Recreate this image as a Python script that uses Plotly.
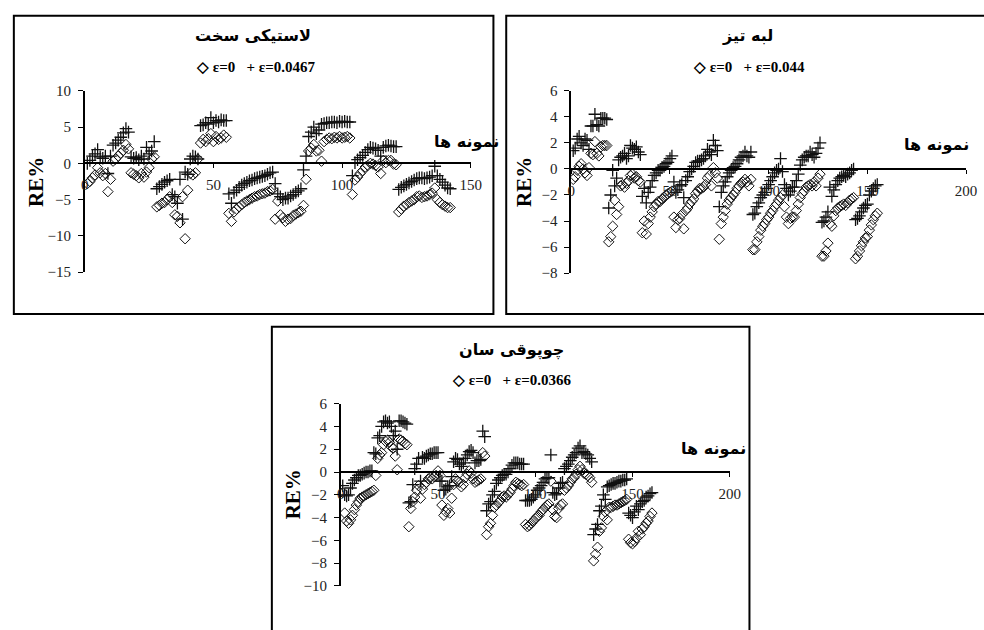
import plotly.graph_objects as go

# ---------------- data ----------------
titles = ["لاستیکی سخت", "لبه تیز", "چوپوقی سان"]
eps_labels = ["ε=0.0467", "ε=0.044", "ε=0.0366"]
eps0_label = "ε=0"
x_label = "نمونه ها"
y_label = "RE%"

# Panel 1 (لاستیکی سخت)
p1_eps0 = [
    -2.8, -2.5, -2.0, -1.6, -0.6, -1.3, -1.7, -1.4, -3.9, -2.2,
    0.3, 0.6, 1.0, 1.4, 1.8, 2.6, 2.0,
    -1.3, -1.5, -1.7, -2.0, -1.4, -1.9, -1.2, -0.6, 0.6, 0.9,
    -6.0, -5.8, -5.5, -5.4, -5.0, -4.6, -5.4, -7.1, -7.3, -8.2, -4.6, -10.4, -3.7,
    -1.4, -1.6, -1.3, 0.6,
    2.8, 3.3, 3.0, 3.4, 4.1, 3.0, 3.7, 3.3, 3.5, 3.9, 3.6,
    -6.9, -8.0, -6.7, -6.3, -6.0, -5.7, -5.4, -5.2, -5.0, -4.8, -4.6, -4.5, -4.3, -4.2, -4.1, -3.9, -3.8, -3.6,
    -7.7, -5.2, -7.1, -7.5, -8.0, -7.7, -7.6, -7.2, -7.0, -6.8, -6.6, -5.8, -2.2,
    1.7, 2.1, 2.6, 1.7, 1.8, 0.3,
    3.0, 3.3, 3.5, 3.4, 3.6, 3.5, 3.7, 3.5, 3.6, 3.7, 3.5,
    -4.3, -2.3, -1.9, -1.4, -1.0, -0.5, -0.3, 0.0, -0.1, -0.3, -0.5, -1.4, 0.4, 0.1, 0.4, 0.4, -0.1, -0.2,
    -6.7, -6.3, -5.9, -5.7, -5.4, -5.2, -5.0, -4.6, -4.5, -4.7, -4.6, -4.5, -4.3, -4.1, -3.4, -5.0, -5.4, -5.7, -5.9, -6.1, -6.1,
]
p1_eps = [
    0.0, 0.4, 1.0, 1.3, 1.9, 0.9, 0.7, 1.0, -1.4, 1.0,
    2.5, 2.8, 3.2, 3.6, 4.2, 4.8, 4.3,
    0.9, 0.7, 0.8, 0.5, 1.0, 0.6, 2.2, 1.3, 1.7, 3.0,
    -3.5, -3.2, -2.9, -2.6, -2.4, -2.2, -4.3, -4.6, -5.5, -2.2, -7.7, -1.2, -1.5,
    0.6, 1.0, 0.9, 0.6,
    5.2, 5.3, 5.6, 5.4, 6.3, 5.6, 5.9, 5.7, 6.0, 5.9, 5.9,
    -4.2, -5.5, -4.0, -3.7, -3.3, -3.0, -2.8, -2.6, -2.4, -2.3, -2.1, -2.0, -1.9, -1.8, -1.7, -1.5, -1.3, -1.2,
    -2.8, -4.2, -4.6, -5.0, -4.8, -4.8, -4.5, -4.3, -4.0, -3.8, -3.5, -0.9, 1.0,
    3.7, 4.3, 5.0, 4.1, 4.6, 5.4,
    5.5, 5.6, 5.6, 5.7, 5.7, 5.6, 5.8, 5.7, 5.8, 5.7, 5.7,
    -1.7, 0.1, 0.5, 0.8, 1.1, 1.5, 1.9, 2.2, 2.1, 2.0, 1.8, 1.0, 2.2, 2.4, 2.5, 2.4, 2.3, 2.3,
    -3.6, -3.3, -3.1, -2.9, -2.7, -2.5, -2.3, -2.1, -2.0, -2.0, -2.1, -2.0, -1.9, -1.7, -0.4, -1.7, -2.2, -2.6, -3.0, -3.4, -3.5,
]

# Panel 2 (لبه تیز)
p2_eps0 = [
    -0.8, -0.6, -0.1, 0.2, 0.4, 0.0, -0.3, -0.5, 0.1,
    1.2, 1.1, 2.1, 1.2, 1.0, 1.7, 1.8, 1.8, 1.8,
    -5.6, -5.2, -4.4, -2.4, -3.5, -2.9, -1.3, -1.2, -1.4, -1.1, -0.9, -0.5, -0.4, -0.7, -0.6, -0.9, -1.0,
    -4.9, -4.0, -5.0, -4.2, -3.7, -3.3, -2.9, -2.7, -2.5, -2.5, -2.3, -2.2, -2.0, -1.9, -1.8, -1.7,
    -3.7, -4.5, -3.9, -3.8, -3.5, -4.6, -3.2, -3.0, -2.7, -2.5, -2.3, -1.9, -1.7, -1.5, -1.5, -1.4, -1.2, -0.7, -0.5, -1.3, 0.1, -0.3, -0.7,
    -5.4, -4.2, -3.7, -3.2, -2.7, -2.4, -2.2, -2.0, -1.8, -1.5, -1.3, -1.1, -1.0, -0.8, -1.0, -1.3, -0.8,
    -6.2, -6.2, -5.6, -5.2, -4.7, -4.4, -4.2, -3.9, -3.7, -3.4, -3.2, -2.9, -2.7, -2.4, -2.2, -2.0,
    -2.9, -3.7, -4.2, -3.8, -3.7, -3.7, -3.2, -2.7, -2.2, -1.9, -1.7, -1.4, -1.3, -1.2, -1.3, -1.0, -1.3, -0.7, -0.4,
    -6.7, -6.7, -6.3, -5.7, -4.2, -4.4, -3.6, -3.2, -3.0, -2.9, -2.8, -2.7, -2.8, -2.6, -2.4, -2.3, -2.2,
    -6.9, -6.7, -6.3, -5.9, -5.6, -5.3, -5.2, -4.7, -4.3, -3.9, -3.6, -3.4,
]
p2_eps = [
    1.4, 1.6, 2.3, 2.5, 2.0, 1.8, 2.3, 2.2, 1.5,
    3.3, 3.3, 4.2, 3.4, 3.3, 3.9, 3.9, 3.9, 3.8,
    -3.0, -2.0, -0.1, -1.3, -0.7, 0.7, 0.9, 1.0, 1.2, 0.8, 1.0, 1.8, 1.6, 1.5, 1.7, 1.3, 1.1,
    -2.1, -1.5, -2.6, -1.8, -1.4, -0.9, -0.5, -0.3, -0.1, -0.1, 0.1, 0.2, 0.4, 0.5, 0.8, 1.0,
    -1.0, -1.8, -1.6, -1.3, -1.2, -2.2, -0.9, -0.6, -0.2, 0.0, 0.2, 0.5, 0.6, 0.6, 0.7, 0.8, 1.0, 1.5, 1.3, 1.1, 2.2, 1.8, 1.4,
    -2.9, -1.8, -1.3, -1.0, -0.6, -0.3, -0.1, 0.1, 0.2, 0.4, 0.7, 0.9, 1.0, 1.3, 1.0, 0.9, 1.3,
    -3.5, -3.4, -2.9, -2.6, -2.2, -2.0, -1.8, -1.5, -1.2, -0.9, -0.6, -0.3, -0.1, 0.0, 0.8, -0.2,
    -1.2, -1.5, -2.0, -1.7, -1.4, -1.4, -0.9, -0.4, 0.3, 0.7, 0.9, 1.0, 1.0, 1.3, 1.1, 0.9, 1.2, 1.6, 2.0,
    -4.1, -4.0, -3.7, -3.3, -1.4, -2.1, -1.6, -1.2, -0.9, -0.7, -0.6, -0.5, -0.6, -0.4, -0.3, -0.1, 0.0,
    -3.9, -3.8, -3.6, -3.3, -3.0, -2.8, -2.7, -2.0, -1.7, -1.5, -1.3, -1.2,
]

# Panel 3 (چوپوقی سان)
p3_eps0 = [
    -1.8, -3.6, -4.3, -4.5, -4.2, -3.8, -3.3, -2.9, -2.6, -2.3, -2.2, -2.1, -2.0, -1.9, -1.8, -1.7, -1.6, -0.3,
    1.2, 1.5, 1.7, 2.4, 2.7, 2.8, 2.6, 2.2, 2.1, 1.4, 0.2, 2.9, 2.8, 2.7, 2.5, 2.4,
    -4.8, -3.2, -2.6, -2.2, -1.6, -1.2, -2.3, -1.5, -1.1, -0.9, -0.6, -0.5, -0.6, -0.4, -0.3, 0.1, -0.3,
    -2.9, -3.8, -3.5, -3.2, -3.6, -2.3, -1.1, -0.6, -0.8, -0.9, -1.3, -1.1, -0.5, -0.2, 0.1, -0.1, -0.6, -0.9, -0.8, -0.7, -0.6, 1.7, 1.4,
    -5.5, -4.8, -4.5, -3.8, -3.1, -2.9, -2.7, -2.5, -2.2, -2.1, -2.2, -2.0, -1.8, -1.5, -1.2, -0.9, -1.0, -1.1, -1.2, -1.1,
    -4.6, -4.8, -4.7, -4.5, -4.3, -4.1, -3.9, -3.8, -3.5, -3.3, -3.1, -2.9, -2.8, -0.8, -3.3, -3.9, -4.0, -3.2, -2.9, -2.8,
    -1.6, -1.4, -1.2, -0.9, -0.6, -0.5, -0.2, 0.2, 0.5, 0.2, -0.1, -0.2, -0.3, -0.5, -0.9,
    -7.8, -7.2, -6.6, -5.2, -4.9, -3.9, -3.5, -4.2, -3.1, -3.1, -3.0, -2.9, -2.9, -2.8, -2.7, -2.6, -2.5, -2.4,
    -5.9, -6.2, -6.3, -6.1, -5.8, -5.2, -5.5, -5.0, -4.8, -4.5, -4.3, -3.9, -3.6,
]
p3_eps = [
    -1.2, -2.0, -2.1, -2.0, -1.4, -1.0, -0.7, -0.5, -0.3, -0.3, -0.2, -0.1, 0.0, 0.0, 0.1, 0.1, 1.7, 1.6,
    3.0, 3.2, 4.0, 4.4, 4.5, 4.3, 4.4, 4.0, 3.2, 3.6, 2.0, 4.5, 4.5, 4.4, 4.3, 4.2,
    -2.7, -2.6, -1.1, 0.3, 0.7, 1.2, -0.8, 1.3, 1.2, 1.4, 1.5, 1.6, 1.6, 1.7, 1.7, 1.7, -0.8,
    -0.8, -1.6, -1.5, -1.3, -1.2, -0.4, 0.9, 1.2, 1.1, 0.7, 0.5, 0.8, 1.2, 1.5, 1.8, 1.9, 1.7, 0.8, 1.0, 1.0, 1.1, 3.6, 3.1,
    -3.4, -2.8, -2.6, -2.0, -1.7, -1.0, -0.7, -0.5, -0.3, -0.2, -0.2, 0.0, 0.3, 0.6, 0.8, 0.8, 0.8, 0.7, 0.7, 0.7,
    -2.5, -2.5, -2.5, -2.4, -2.2, -2.0, -1.6, -1.4, -1.2, -0.9, -0.6, -0.5, -0.5, 1.5, -1.8, -2.0, -1.9, -1.4, -1.0, -0.9,
    0.3, 0.5, 0.7, 1.0, 1.3, 1.5, 1.7, 2.1, 2.3, 1.7, 1.8, 1.6, 1.5, 1.2, 0.9,
    -5.5, -5.0, -4.6, -3.4, -3.0, -2.0, -2.4, -1.3, -1.2, -1.1, -1.0, -1.0, -0.9, -0.8, -0.8, -0.7, -0.7, -0.6,
    -3.6, -3.8, -4.0, -3.5, -3.0, -3.3, -2.8, -2.6, -2.5, -2.2, -2.1, -1.9, -1.8,
]

x_ranges = [[0, 150], [0, 200], [0, 200]]
x_ticks = [[0, 50, 100, 150], [0, 50, 100, 150, 200], [0, 50, 100, 150, 200]]
y_ranges = [[-15, 10], [-8, 6], [-10, 6]]
y_ticks = [[-15, -10, -5, 0, 5, 10], [-8, -6, -4, -2, 0, 2, 4, 6], [-10, -8, -6, -4, -2, 0, 2, 4, 6]]

# ---------------- layout (pixel geometry) ----------------
W, H = 984, 630
def px(x): return x / W
def py(y): return 1 - y / H

# plot areas: (x_left, x_right, y_top, y_bottom) in pixels
areas = [(82, 474, 85, 271), (576, 977, 85, 272), (342, 737, 406, 593)]
borders = [(10, 8, 497, 314), (510, 8, 1000, 314), (272, 327, 757, 640)]
title_pos = [(253, 28), (755, 28), (515, 351)]
legend_pos = [(255, 61), (757, 61), (515, 382)]
xlab = [(435, 137, "left"), (982, 140, "right"), (685, 452, "left")]
ylab_x = [33, 528, 293]

serif = "Liberation Serif"
persian = "DejaVu Sans"
ink = "#111111"

series = [(p1_eps0, p1_eps), (p2_eps0, p2_eps), (p3_eps0, p3_eps)]

fig = go.Figure()
layout = dict(
    width=W, height=H, margin=dict(l=0, r=0, t=0, b=0),
    paper_bgcolor="white", plot_bgcolor="rgba(0,0,0,0)",
    showlegend=False, shapes=[], annotations=[],
)

for i, (d0, d1) in enumerate(series):
    k = "" if i == 0 else str(i + 1)
    xs0 = list(range(1, len(d0) + 1))
    xs1 = list(range(1, len(d1) + 1))
    fig.add_trace(go.Scatter(
        x=xs0, y=d0, mode="markers", name=eps0_label,
        xaxis="x" + k, yaxis="y" + k,
        marker=dict(symbol="diamond-open", size=8, color=ink, line=dict(width=1, color=ink)),
    ))
    fig.add_trace(go.Scatter(
        x=xs1, y=d1, mode="markers", name=eps_labels[i],
        xaxis="x" + k, yaxis="y" + k,
        marker=dict(symbol="cross-thin", size=9, color=ink, line=dict(width=1.3, color=ink)),
    ))

    xl, xr, yt, yb = areas[i]
    ydom = [py(yb), py(yt)]
    ymin, ymax = y_ranges[i]
    zero_pos = ydom[0] + (0 - ymin) / (ymax - ymin) * (ydom[1] - ydom[0])

    layout["xaxis" + k] = dict(
        domain=[px(xl), px(xr)], range=x_ranges[i], anchor="free", position=zero_pos,
        tickvals=x_ticks[i], showline=True, linecolor="black", linewidth=1.5,
        ticks="outside", ticklen=4, tickcolor="black", showgrid=False, zeroline=False,
        tickfont=dict(family=serif, size=15, color="#222"), ticklabelstandoff=4,
    )
    layout["yaxis" + k] = dict(
        domain=ydom, range=y_ranges[i], anchor="x" + k,
        tickvals=y_ticks[i], showline=True, linecolor="black", linewidth=1.5,
        ticks="outside", ticklen=5, tickcolor="black", showgrid=False, zeroline=False,
        tickfont=dict(family=serif, size=15, color="#222"), ticklabelstandoff=4,
    )
    lx, ly = legend_pos[i]
    layout["annotations"].append(dict(
        text="<b>◇ " + eps0_label + "   + " + eps_labels[i] + "</b>",
        x=px(lx), y=py(ly), xref="paper", yref="paper",
        showarrow=False, xanchor="center", yanchor="middle",
        font=dict(family=serif, size=15, color="black"),
    ))
    bx0, by0, bx1, by1 = borders[i]
    layout["shapes"].append(dict(
        type="rect", xref="paper", yref="paper",
        x0=px(bx0), x1=px(bx1), y0=py(by1), y1=py(by0),
        line=dict(color="black", width=2), fillcolor="rgba(0,0,0,0)",
    ))
    tx, ty = title_pos[i]
    layout["annotations"].append(dict(
        text="<b>" + titles[i] + "</b>", x=px(tx), y=py(ty), xref="paper", yref="paper",
        showarrow=False, xanchor="center", yanchor="middle",
        font=dict(family=persian, size=16, color="black"),
    ))
    ax, ay, anc = xlab[i]
    layout["annotations"].append(dict(
        text="<b>" + x_label + "</b>", x=px(ax), y=py(ay), xref="paper", yref="paper",
        showarrow=False, xanchor=anc, yanchor="middle",
        font=dict(family=persian, size=16, color="black"),
    ))
    layout["annotations"].append(dict(
        text="<b>" + y_label + "</b>", x=px(ylab_x[i]), y=(ydom[0] + ydom[1]) / 2,
        xref="paper", yref="paper", showarrow=False, textangle=-90,
        xanchor="center", yanchor="middle",
        font=dict(family=serif, size=21, color="black"),
    ))

fig.update_layout(**layout)
fig.write_html(
    "out.html",
    config={"displayModeBar": False},
    post_script="document.body.style.margin='0';document.body.style.overflow='hidden';",
)
